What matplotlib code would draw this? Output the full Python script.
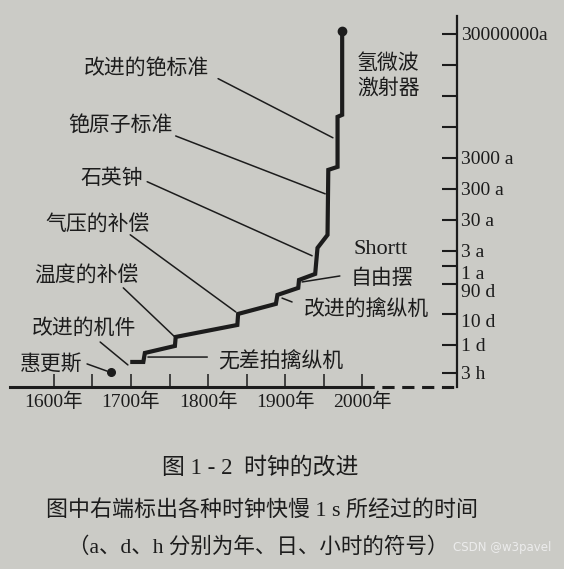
import numpy as np
import matplotlib
matplotlib.use("Agg")
import matplotlib.pyplot as plt
from matplotlib.ticker import FixedLocator, NullLocator

CJK = ["Noto Sans CJK SC", "DejaVu Sans"]
SERIF_CJK = ["Liberation Serif", "Noto Sans CJK SC"]
plt.rcParams["font.family"] = CJK

paper = "#cbcbc6"
ink = "#1c1c1c"

# step curve of clock accuracy (time to drift 1 s), year vs seconds
years = [1699, 1716, 1718, 1757, 1758, 1838, 1839, 1888, 1890, 1917,
         1918, 1939, 1940, 1942, 1955, 1956, 1968, 1968, 1974, 1974]
seconds = [2.43e4, 2.43e4, 4.74e4, 7.98e4, 1.56e5, 3.80e5, 8.63e5, 1.82e6, 3.54e6, 5.97e6,
           1.08e7, 1.69e7, 3.30e7, 1.17e8, 3.07e8, 3.86e10, 4.83e10, 1.99e12, 2.31e12, 1.19e15]

huygens_year = 1674
huygens_sec = 1.15e4

# annotations: label, text centre, leader line tail and tip
labels = ["改进的铯标准", "铯原子标准", "石英钟", "气压的补偿", "温度的补偿",
          "改进的机件", "惠更斯", "无差拍擒纵机", "改进的擒纵机", "自由摆"]
text_year = [1720, 1686, 1675, 1657, 1642, 1639, 1597, 1894, 2005, 2025]
text_sec = [7.6e13, 1.1e12, 2.1e10, 6.5e8, 1.45e7, 3.0e5, 2.2e4, 2.45e4, 1.15e6, 1.26e7]
tail_year = [1813, 1758, 1721, 1699, 1690, 1660, 1643, 1799, 1909, 1971]
tail_sec = [3.4e13, 4.8e11, 1.6e10, 3.1e8, 6.0e6, 1.07e5, 2.1e4, 3.5e4, 2.1e6, 1.45e7]
tip_year = [1962, 1952, 1935, 1836, 1757, 1696, 1669, 1722, 1896, 1922]
tip_sec = [4.2e11, 6.5e9, 6.5e7, 1.0e6, 1.55e5, 1.95e4, 1.23e4, 3.5e4, 2.8e6, 9.3e6]

# right-hand scale
YEAR = 365.25 * 86400
ytick_sec = [10800, 86400, 864000, 7776000, YEAR, 3 * YEAR, 30 * YEAR, 300 * YEAR,
             3000 * YEAR, 3e4 * YEAR, 3e5 * YEAR, 3e6 * YEAR, 3e7 * YEAR]
ytick_labels = ["3 h", "1 d", "10 d", "90 d", "1 a", "3 a", "30 a", "300 a",
                "3000 a", "", "", "", "30000000a"]

xtick_years = [1600, 1650, 1700, 1750, 1800, 1850, 1900, 1950, 2000]
xtick_labels = ["1600年", "", "1700年", "", "1800年", "", "1900年", "", "2000年"]

fig = plt.figure(figsize=(5.64, 5.69), dpi=100, facecolor=paper)
ax = fig.add_axes([0.0177, 0.320, 0.7926, 0.652])
ax.set_facecolor(paper)
ax.set_yscale("log")
ax.set_xlim(1543, 2123)
ax.set_ylim(3.8e3, 3.6e15)

ax.plot(years, seconds, color=ink, lw=3.0, solid_joinstyle="miter", solid_capstyle="butt")
ax.plot(years[-1], seconds[-1], "o", color=ink, ms=6)
ax.plot(huygens_year, huygens_sec, "o", color=ink, ms=5.5)

for i, lab in enumerate(labels):
    ax.annotate("", xy=(tip_year[i], tip_sec[i]), xytext=(tail_year[i], tail_sec[i]),
                arrowprops=dict(arrowstyle="-", color=ink, lw=1.1, shrinkA=0, shrinkB=0))
    ax.text(text_year[i], text_sec[i], lab, fontsize=15, color=ink,
            ha="center", va="center", family=CJK)

ax.text(2024, 1.0e8, "Shortt", fontsize=16, color=ink, ha="center", va="center",
        family="Liberation Serif")
ax.text(2034, 4.3e13, "氢微波\n激射器", fontsize=15, color=ink, ha="center", va="center",
        linespacing=1.15, family=CJK)

# axes frame: bottom and right only
for side in ["top", "left"]:
    ax.spines[side].set_visible(False)
ax.spines["bottom"].set_linewidth(2.2)
ax.spines["bottom"].set_color(ink)
ax.spines["bottom"].set_bounds(1543, 2000)
ax.spines["right"].set_linewidth(1.6)
ax.spines["right"].set_color(ink)
ax.plot([2000, 2123], [0, 0], transform=ax.get_xaxis_transform(), color=ink,
        lw=2.2, ls=(0, (4, 2.5)), clip_on=False)

ax.xaxis.set_major_locator(FixedLocator(xtick_years))
ax.set_xticklabels(xtick_labels, fontsize=14, color=ink, family=SERIF_CJK)
ax.tick_params(axis="x", direction="in", length=9.5, width=1.1, color=ink, pad=4)

ax.yaxis.set_major_locator(FixedLocator(ytick_sec))
ax.yaxis.set_minor_locator(NullLocator())
ax.set_yticklabels(ytick_labels, fontsize=14, color=ink, family="Liberation Serif")
ax.tick_params(axis="y", which="both", left=False, right=True, labelleft=False,
               labelright=True, direction="in", length=11, width=1.5, color=ink, pad=3)
# the printed scale spreads out the short units a little; hang these labels below their ticks
for lab in ax.get_yticklabels(which="major"):
    if lab.get_text() in ("1 a", "90 d", "10 d"):
        lab.set_verticalalignment("top")

fig.text(0.461, 0.1775, "图 1 - 2  时钟的改进", fontsize=16.5, color=ink,
         ha="center", va="center", family=SERIF_CJK)
fig.text(0.464, 0.1037, "图中右端标出各种时钟快慢 1 s 所经过的时间", fontsize=15.8, color=ink,
         ha="center", va="center", family=SERIF_CJK)
fig.text(0.457, 0.0387, "（a、d、h 分别为年、日、小时的符号）", fontsize=15.5, color=ink,
         ha="center", va="center", family=SERIF_CJK)
fig.text(0.891, 0.037, "CSDN @w3pavel", fontsize=8.5, color="#ececec",
         ha="center", va="center", family="DejaVu Sans")

fig.savefig("out.png", dpi=100, facecolor=paper)
